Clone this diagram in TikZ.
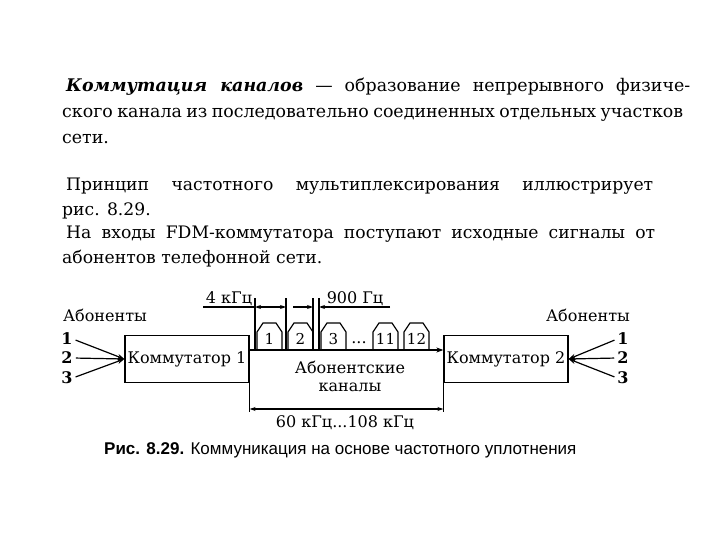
\documentclass[tikz,border=0pt]{standalone}
\usepackage{fontspec}
\setmainfont{DejaVu Serif}
\newfontfamily\capfont{Liberation Sans}
\usetikzlibrary{arrows.meta}

\begin{document}
\begin{tikzpicture}[
    x=1pt,
    y=-1pt,
    every node/.style={font=\fontsize{16}{18}\selectfont, inner sep=0pt},
    txt/.style={anchor=base west, font=\fontsize{17.4}{20}\selectfont},
    txtb/.style={anchor=base west, font=\fontsize{17.2}{20}\selectfont},
    box/.style={draw, line width=1.3pt, minimum width=124pt, minimum height=47pt, align=center},
    arrow/.style={-{Stealth[length=7pt,width=5pt]}, line width=1.2pt},
    dim/.style={{Stealth[length=6pt,width=4pt]}-{Stealth[length=6pt,width=4pt]}, line width=1.1pt},
    tip/.style={-{Stealth[length=6pt,width=4pt]}, line width=1.1pt},
    thin/.style={line width=1.2pt},
    num/.style={font=\bfseries\fontsize{16}{18}\selectfont}
]
\useasboundingbox (0,0) rectangle (720,540);

% text above the figure
\node[txt] (t1) at (66,92) {\makebox[624pt][s]{\textbf{\textit{Коммутация каналов}} — образование непрерывного физиче-}};
\node[txt] (t2) at (62,118) {\makebox[621pt][s]{ского канала из последовательно соединенных отдельных участков}};
\node[txt] (t3) at (62,144) {сети.};
\node[txtb] (t4) at (66,191) {\makebox[587pt][s]{Принцип частотного мультиплексирования иллюстрирует}};
\node[txtb] (t5) at (62,215) {рис. 8.29.};
\node[txtb] (t6) at (66,239) {\makebox[589pt][s]{На входы FDM-коммутатора поступают исходные сигналы от}};
\node[txtb] (t7) at (62,263) {абонентов телефонной сети.};

% switches
\node[box] (k1) at (187,359) {Коммутатор 1};
\node[box] (k2) at (506,359) {Коммутатор 2};

\node[anchor=base] (ab1) at (105,321) {Абоненты};
\node[anchor=base] (ab2) at (588,321) {Абоненты};

\node[num] (l1) at (67,339) {1};
\node[num] (l2) at (67,358) {2};
\node[num] (l3) at (67,378) {3};
\node[num] (r1) at (623,339) {1};
\node[num] (r2) at (623,358) {2};
\node[num] (r3) at (623,378) {3};

\foreach \a in {l1,l2,l3}
  \draw[arrow, shorten <=3pt] (\a.east) -- (k1.west);
\foreach \a in {r1,r2,r3}
  \draw[arrow, shorten <=3pt] (\a.west) -- (k2.east);

% channel band
\coordinate (ax) at (249,350);
\coordinate (bt) at (0,412);
\coordinate (bb) at (0,409);
\draw[arrow] (ax) -- (ax -| k2.west);
\draw[thin] (k1.south east) -- (k1.south east |- bt);
\draw[thin] (k2.south west) -- (k2.south west |- bt);
\draw[dim] (k1.east |- bb) -- (k2.west |- bb);

\foreach \n/\xa [count=\i] in {1/257,2/288,3/321,11/373,12/404} {
  \draw[thin] (\xa,350) -- (\xa,332) -- (\xa+6,323) -- (\xa+19,323) -- (\xa+25,332) -- (\xa+25,350);
  \node[font=\fontsize{15}{16}\selectfont] (c\i) at (\xa+12.5,339) {\n};
}
\node (dots) at (359,343) {...};

\node (mid) at (350,376) [align=center] {Абонентские\\каналы};

% spacing marks
\foreach \xt in {255,286,313,319}
  \draw[thin] (\xt,298) -- (\xt,350);
\coordinate (d0) at (203,307);
\coordinate (d1) at (255,307);
\coordinate (d2) at (286,307);
\coordinate (d3) at (313,307);
\coordinate (d4) at (319,307);
\coordinate (d5) at (390,307);
\draw[thin] (d0) -- (d1);
\draw[dim] (d1) -- (d2);
\draw[tip] ([xshift=7pt]d2) -- (d3);
\draw[tip] (d5) -- (d4);
\node[anchor=base] (f4) at (229,303) {4 кГц};
\node[anchor=base] (f9) at (355,303) {900 Гц};

\node[anchor=base] (band) at (345,427) {60 кГц...108 кГц};

\node[anchor=base west, font=\capfont\fontsize{17}{18}\selectfont] (cap) at (104,454)
  {\textbf{Рис. 8.29.} Коммуникация на основе частотного уплотнения};
\end{tikzpicture}
\end{document}
